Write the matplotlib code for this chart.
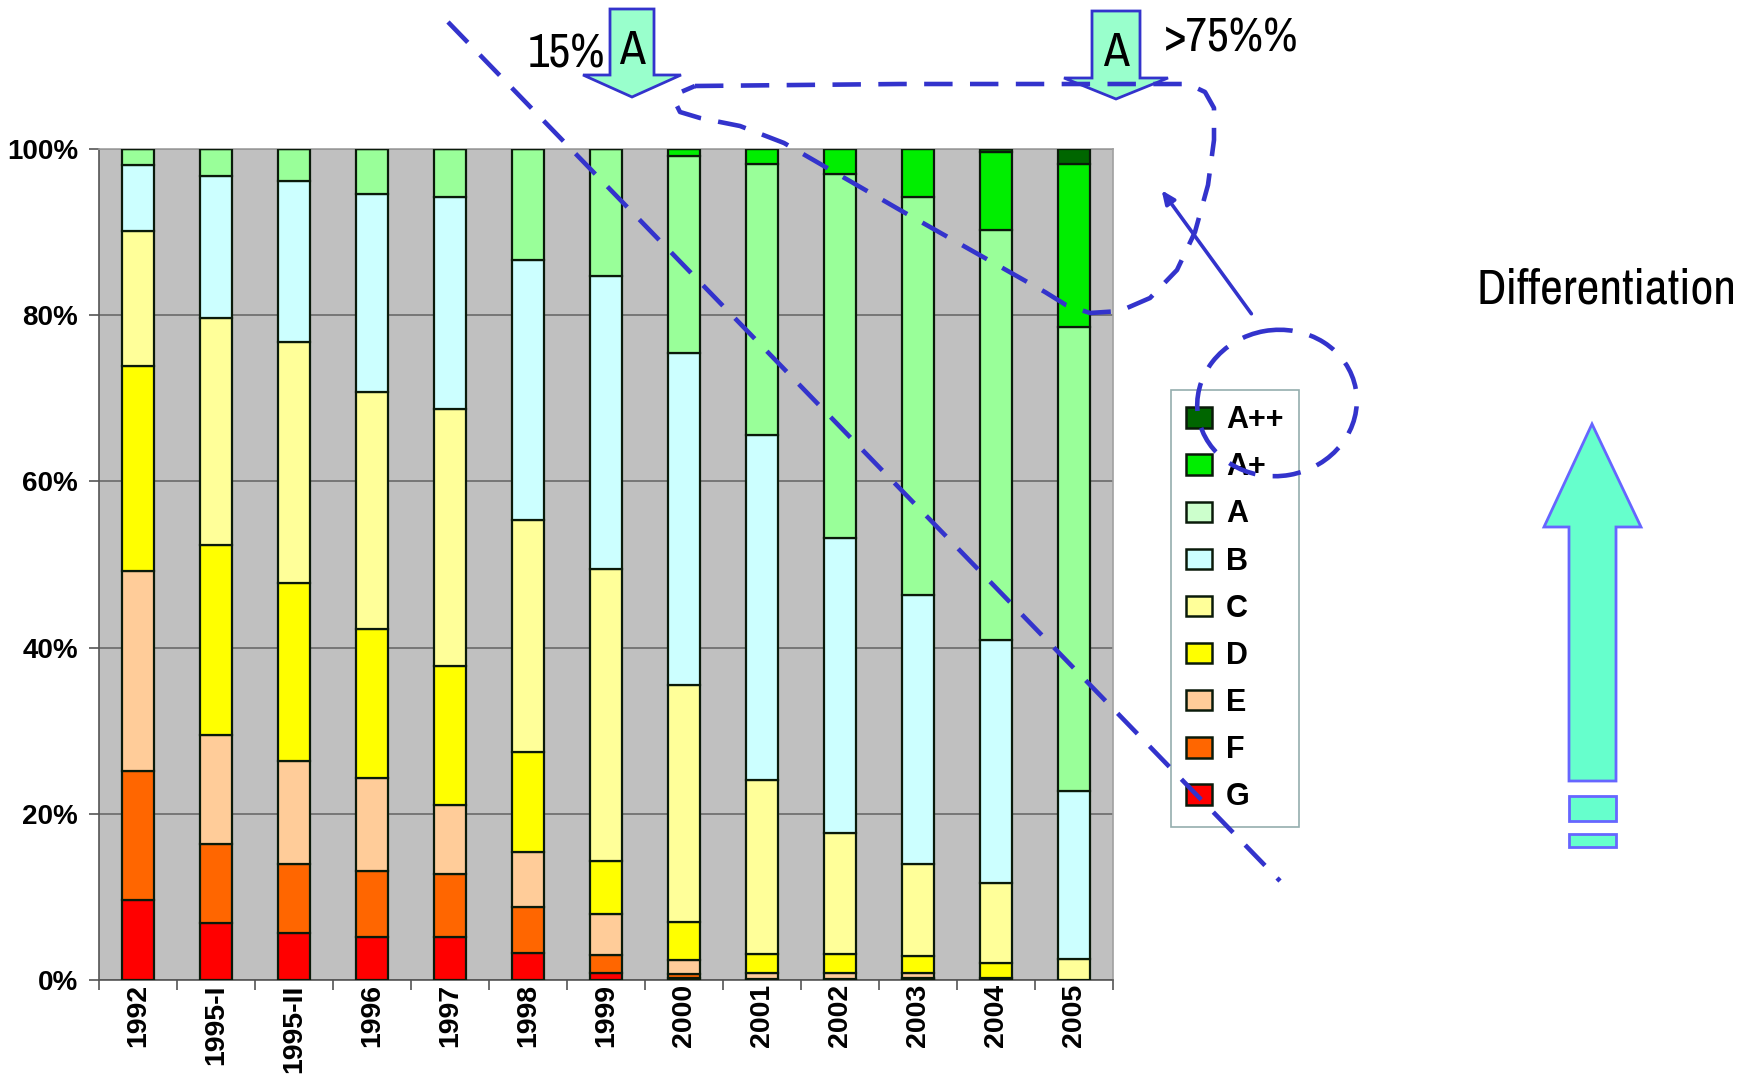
import matplotlib
matplotlib.use("Agg")
import matplotlib.pyplot as plt
import numpy as np
from matplotlib.patches import Polygon, Ellipse, Rectangle, Patch

categories = ["1992", "1995-I", "1995-II", "1996", "1997", "1998", "1999",
              "2000", "2001", "2002", "2003", "2004", "2005"]
grades = ["G", "F", "E", "D", "C", "B", "A", "A+", "A++"]
G   = [9.6, 6.9, 5.7, 5.2, 5.2, 3.3, 0.9, 0.2, 0.0, 0.0, 0.1, 0.0, 0.0]
F   = [15.5, 9.5, 8.2, 7.9, 7.6, 5.5, 2.1, 0.5, 0.1, 0.1, 0.2, 0.0, 0.0]
E   = [24.1, 13.1, 12.5, 11.2, 8.2, 6.6, 5.0, 1.7, 0.8, 0.8, 0.6, 0.2, 0.0]
D   = [24.7, 22.8, 21.4, 17.9, 16.8, 12.0, 6.3, 4.6, 2.2, 2.2, 2.0, 1.8, 0.0]
C   = [16.2, 27.4, 29.0, 28.6, 30.9, 28.0, 35.1, 28.5, 21.0, 14.6, 11.1, 9.7, 2.5]
B   = [8.0, 17.0, 19.3, 23.8, 25.5, 31.3, 35.3, 40.0, 41.5, 35.5, 32.3, 29.2, 20.2]
A   = [1.9, 3.3, 3.9, 5.4, 5.8, 13.3, 15.3, 23.7, 32.6, 43.8, 47.9, 49.3, 55.9]
Ap  = [0.0, 0.0, 0.0, 0.0, 0.0, 0.0, 0.0, 0.8, 1.8, 3.0, 5.8, 9.4, 19.6]
App = [0.0, 0.0, 0.0, 0.0, 0.0, 0.0, 0.0, 0.0, 0.0, 0.0, 0.0, 0.4, 1.8]
y_ticks = [0, 20, 40, 60, 80, 100]
y_tick_labels = ["0%", "20%", "40%", "60%", "80%", "100%"]

series = [G, F, E, D, C, B, A, Ap, App]
colors = ["#FF0000", "#FF6600", "#FFCC99", "#FFFF00", "#FFFF99",
          "#CCFFFF", "#99FF99", "#00EE00", "#006600"]
legend_colors = ["#FF0000", "#FF6600", "#FFCC99", "#FFFF00", "#FFFF99",
                 "#CCFFFF", "#CCFFCC", "#00EE00", "#006600"]

W, H = 1757, 1075
fig = plt.figure(figsize=(W / 100, H / 100), dpi=100)
fig.patch.set_facecolor("white")

ax = fig.add_axes([99 / W, 1 - 980 / H, (1113 - 99) / W, (980 - 149) / H])
ax.set_facecolor("#C0C0C0")
x = np.arange(len(categories))
bottom = np.zeros(len(categories))
for vals, col, name in zip(series, colors, grades):
    v = np.array(vals)
    ax.bar(x, v, bottom=bottom, width=0.41, color=col, edgecolor="#0a1a0a",
           linewidth=1.6, label=name, zorder=3)
    bottom += v

ax.set_xlim(-0.5, len(categories) - 0.5)
ax.set_ylim(0, 100)
ax.set_yticks(y_ticks)
ax.set_yticklabels(y_tick_labels, fontsize=20, fontweight="bold",
                   family="Liberation Sans")
ax.yaxis.grid(True, color="#6a6a6a", linewidth=1.2, zorder=1)
ax.set_axisbelow(True)
ax.set_xticks(x)
ax.set_xticklabels(categories, rotation=90, fontsize=20.5, fontweight="bold",
                   family="Liberation Sans")
ax.set_xticks(np.arange(len(categories) + 1) - 0.5, minor=True)
ax.tick_params(axis="x", which="major", length=0, pad=3)
ax.tick_params(axis="x", which="minor", length=7, width=1.2, color="#555555")
ax.tick_params(axis="y", length=7, width=1.2, color="#555555", pad=8)
for s in ["top", "right"]:
    ax.spines[s].set_color("#a0a0a0")
    ax.spines[s].set_linewidth(1.2)
for s in ["left", "bottom"]:
    ax.spines[s].set_color("#555555")
    ax.spines[s].set_linewidth(1.2)

handles = [Patch(facecolor=c, edgecolor="#0a1a0a", linewidth=1.8, label=g)
           for c, g in zip(legend_colors, grades)][::-1]
leg = ax.legend(handles=handles, loc="upper left",
                bbox_to_anchor=(1171 / W, 1 - 390 / H),
                bbox_transform=fig.transFigure, borderaxespad=0,
                frameon=True, fancybox=False, edgecolor="#7a9a9a",
                prop={"family": "Liberation Sans", "weight": "bold", "size": 22},
                handlelength=0.85, handleheight=0.65, handletextpad=0.45,
                labelspacing=0.56, borderpad=0.5)
leg.get_frame().set_linewidth(1.2)

# overlay in full-image pixel coordinates
ov = fig.add_axes([0, 0, 1, 1], zorder=10)
ov.set_xlim(0, W)
ov.set_ylim(H, 0)
ov.axis("off")
ov.patch.set_alpha(0)

blue = "#3333CC"
dash = (0, (6.2, 3.8))
lw_d = 3.3
# diagonal dashed line
ov.plot([448, 1280], [22, 881], color=blue, lw=lw_d, linestyle=dash,
        solid_capstyle="butt")

# dashed loop
loop_x = [695, 900, 1188, 1205, 1214, 1214, 1208, 1195, 1177, 1150, 1120,
          1090, 1066, 1045, 900, 784, 740, 700, 680, 675, 681, 695]
loop_y = [86, 84, 84, 92, 108, 140, 185, 232, 270, 298, 311,
          313, 305, 292, 210, 143, 126, 118, 112, 102, 92, 86]
ov.plot(loop_x, loop_y, color=blue, lw=lw_d, linestyle=dash)

# dashed ellipse
ov.add_patch(Ellipse((1277, 403), 160, 146, angle=-10, fill=False,
                     edgecolor=blue, lw=lw_d, linestyle=dash))

# solid arrow
ov.annotate("", xy=(1160, 188), xytext=(1253, 316),
            arrowprops=dict(arrowstyle="-|>,head_length=0.8,head_width=0.35",
                            color=blue, lw=2.6))


def down_arrow(cx, top, shaft_bot, tip, sw, hw, fc, ec):
    pts = [(cx - sw / 2, top), (cx + sw / 2, top), (cx + sw / 2, shaft_bot),
           (cx + hw / 2, shaft_bot), (cx, tip), (cx - hw / 2, shaft_bot),
           (cx - sw / 2, shaft_bot)]
    ov.add_patch(Polygon(pts, closed=True, facecolor=fc, edgecolor=ec, lw=2))


mint = "#99FFCC"
down_arrow(632, 9, 75, 97, 44, 98, mint, blue)
down_arrow(1116, 11, 78, 99, 48, 104, mint, blue)

tfont = ["Archivo Narrow", "Liberation Sans", "DejaVu Sans"]
ov.text(632, 50, "A", ha="center", va="center", fontsize=34, family=tfont)
ov.text(1116, 53, "A", ha="center", va="center", fontsize=34, family=tfont)
ov.text(566, 54, "15%", ha="center", va="center", fontsize=34, family=tfont)
ov.text(1164, 38, ">75%%", ha="left", va="center", fontsize=34, family=tfont)
ov.text(1607, 290, "Differentiation", ha="center", va="center", fontsize=36,
        family=tfont, fontweight="medium")

# big up arrow on the right
aq = "#66FFCC"
ec2 = "#6666FF"
up = [(1569, 781), (1569, 527), (1544, 527), (1592, 424), (1641, 527),
      (1616, 527), (1616, 781)]
ov.add_patch(Polygon(up, closed=True, facecolor=aq, edgecolor=ec2, lw=2))
ov.add_patch(Rectangle((1569, 796), 47, 25, facecolor=aq, edgecolor=ec2, lw=2))
ov.add_patch(Rectangle((1569, 834), 47, 13, facecolor=aq, edgecolor=ec2, lw=2))

fig.savefig("out.png", dpi=100, facecolor="white")
